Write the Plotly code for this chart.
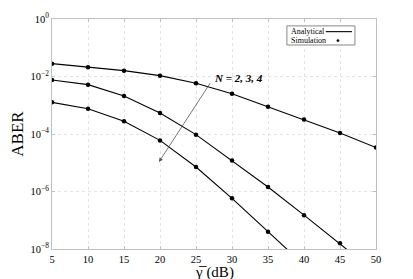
import plotly.graph_objects as go

snr_db = [5, 10, 15, 20, 25, 30, 35, 40, 45, 50]
aber_n2 = [2.8e-2, 2.1e-2, 1.6e-2, 1.07e-2, 5.8e-3, 2.5e-3, 8.9e-4, 3.2e-4, 1.08e-4, 3.4e-5]
aber_n3 = [7.6e-3, 5.2e-3, 2.1e-3, 5.4e-4, 9.5e-5, 1.2e-5, 1.44e-6, 1.5e-7, 1.6e-8, 1.5e-9]
aber_n4 = [1.26e-3, 7.6e-4, 2.8e-4, 6.0e-5, 7.1e-6, 5.8e-7, 4.0e-8, 2.8e-9]
snr_n4 = snr_db[:len(aber_n4)]

series = [(snr_db, aber_n2), (snr_db, aber_n3), (snr_n4, aber_n4)]

ytick_vals = [1, 1e-2, 1e-4, 1e-6, 1e-8]
ytick_text = ["10<sup>0</sup>", "10<sup>−2</sup>", "10<sup>−4</sup>", "10<sup>−6</sup>", "10<sup>−8</sup>"]
xtick_vals = [5, 10, 15, 20, 25, 30, 35, 40, 45, 50]
legend_labels = ["Analytical", "Simulation"]
x_title = "γ̅ (dB)"
y_title = "ABER"

serif = "Liberation Serif, Times New Roman, serif"

fig = go.Figure()
for x, y in series:
    fig.add_trace(go.Scatter(x=x, y=y, mode="lines", line=dict(color="black", width=1.1),
                             name=legend_labels[0], showlegend=False))
for x, y in series:
    fig.add_trace(go.Scatter(x=x, y=y, mode="markers", marker=dict(color="black", size=4.5),
                             name=legend_labels[1], showlegend=False))

# arrow + label
fig.add_annotation(x=19.86, y=-4.97, ax=27.1, ay=-2.18, xref="x", yref="y", axref="x", ayref="y",
                   text="", showarrow=True, arrowhead=2, arrowsize=1, arrowwidth=0.8, arrowcolor="#555")
fig.add_annotation(x=27.2, y=-2.05, xref="x", yref="y", text="<b><i>N = 2, 3, 4</i></b>",
                   showarrow=False, xanchor="left", yanchor="middle",
                   font=dict(family=serif, size=11, color="black"))

# custom legend box (text left, symbol right, as in reference)
fig.add_shape(type="rect", xref="paper", yref="paper", x0=0.725, x1=0.935, y0=0.887, y1=0.970,
              line=dict(color="#888", width=1), fillcolor="white", layer="above")
fig.add_annotation(xref="paper", yref="paper", x=0.731, y=0.945, text=legend_labels[0],
                   showarrow=False, xanchor="left", yanchor="middle",
                   font=dict(family=serif, size=8, color="black"))
fig.add_annotation(xref="paper", yref="paper", x=0.731, y=0.906, text=legend_labels[1],
                   showarrow=False, xanchor="left", yanchor="middle",
                   font=dict(family=serif, size=8, color="black"))
fig.add_shape(type="line", xref="paper", yref="paper", x0=0.845, x1=0.926, y0=0.945, y1=0.945,
              line=dict(color="black", width=1.1), layer="above")
fig.add_shape(type="circle", xref="paper", yref="paper", x0=0.879, x1=0.886, y0=0.901, y1=0.911,
              line=dict(color="black", width=0.5), fillcolor="black", layer="above")

# x-axis title placed as annotation just below the tick labels
fig.add_annotation(xref="paper", yref="paper", x=0.5, y=-0.1, text=x_title, showarrow=False,
                   xanchor="center", yanchor="middle",
                   font=dict(family=serif, size=15, color="black"))

axis_common = dict(showline=True, linecolor="#c0c0c0", linewidth=1, mirror="ticks",
                   showgrid=True, gridcolor="#e4e4e4", griddash="dot", gridwidth=1,
                   ticks="inside", ticklen=3, tickcolor="#c0c0c0", zeroline=False, automargin=False,
                   tickfont=dict(family=serif, size=10.5, color="black"))

fig.update_xaxes(range=[5, 50], tickvals=xtick_vals, **axis_common)
fig.update_yaxes(type="log", range=[-8, 0], tickvals=ytick_vals, ticktext=ytick_text, **axis_common,
                 title=dict(text=y_title, font=dict(family=serif, size=17, color="black"), standoff=6))

# page body has an 8px default margin, so the figure is sized 8px smaller
fig.update_layout(
    width=405, height=271,
    margin=dict(l=44, r=37, t=11, b=30),
    plot_bgcolor="white", paper_bgcolor="white",
    showlegend=False,
)

fig.write_html("out.html")
